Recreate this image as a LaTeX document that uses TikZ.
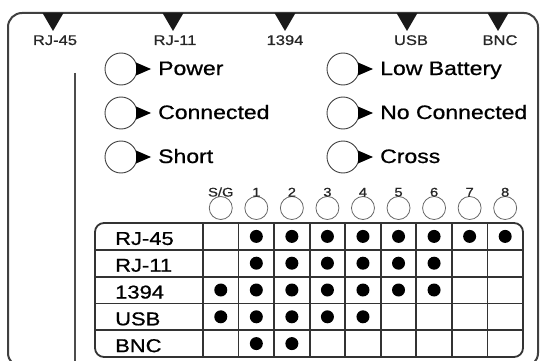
\documentclass[tikz,border=0pt]{standalone}
\usepackage{fontspec}
\usepackage{graphicx}
\setmainfont{Liberation Sans}[FakeBold=0.7]
\newcommand{\hstr}[1]{\scalebox{1.18}[1]{#1}}
\tikzset{
 frameline/.style={line width=2pt, draw=black!75},
 port/.style={fill=black!90},
 portlabel/.style={font=\fontsize{14}{16}\selectfont, anchor=base, inner sep=0pt, text=black!85},
 led/.style={circle, draw=black!75, line width=0.9pt, minimum size=32pt, inner sep=0pt},
 ledtip/.style={fill=black},
 ledlabel/.style={font=\fontsize{19.5}{22}\selectfont, anchor=base west, inner sep=0pt},
 pin/.style={circle, draw=black!60, line width=0.8pt, minimum size=23pt, inner sep=0pt},
 pinlabel/.style={font=\fontsize{12.5}{14}\selectfont, anchor=base, inner sep=0pt, text=black!85},
 gridline/.style={line width=1.8pt, draw=black!80},
 dot/.style={circle, fill=black, minimum size=13pt, inner sep=0pt},
 rowlabel/.style={font=\fontsize{18.6}{21}\selectfont, anchor=base west, inner sep=0pt},
}
\begin{document}
\begin{tikzpicture}[x=1pt,y=-1pt]
\useasboundingbox (0,0) rectangle (541,361);
\begin{scope}
\clip (0,0) rectangle (541,361);
% outer frame
\draw[frameline, rounded corners=14pt] (8,367) -- (8,13) -- (538,13) -- (538,367) -- cycle;
% vertical line
\draw[line width=2pt, draw=black!70] (75,73) coordinate (vtop) -- (75,362) coordinate (vbot);
% ports
\foreach \x/\lx/\t/\n in {53/55/RJ-45/p1, 173/175/RJ-11/p2, 285/285/1394/p3, 407/411/USB/p4, 498/500/BNC/p5} {
  \fill[port] (\x-10.5,13) -- (\x+10.5,13) -- (\x,31) -- cycle;
  \node[portlabel] (\n) at (\lx,45) {\hstr{\t}};
}
% LEDs
\foreach \x/\y/\t/\n in {121/69/Power/l1, 121/113/Connected/l2, 121/157/Short/l3, 343/69/Low Battery/l4, 343/113/No Connected/l5, 343/157/Cross/l6} {
  \node[led] (\n) at (\x,\y) {};
  \fill[ledtip] (\x+15,\y-6.5) -- (\x+30,\y) -- (\x+15,\y+6.5) -- cycle;
  \node[ledlabel] (\n t) at (\x+37,\y+6) {\hstr{\t}};
}
% pins
\foreach \t [count=\i from 0] in {S/G,1,2,3,4,5,6,7,8} {
  \pgfmathsetmacro{\xc}{203+35.55*(\i+0.5)}
  \node[pin] (pin\i) at (\xc,208) {};
  \node[pinlabel] (pinl\i) at (\xc,196.5) {\hstr{\t}};
}
% table
\draw[gridline, rounded corners=9pt] (95,223) rectangle (523,357);
\foreach \j in {1,2,3,4} {
  \draw[gridline] (95,223+26.8*\j) -- (523,223+26.8*\j);
}
\foreach \i in {0,...,8} {
  \draw[gridline] (203+35.55*\i,223) -- (203+35.55*\i,357);
}
\foreach \t [count=\j from 0] in {RJ-45,RJ-11,1394,USB,BNC} {
  \node[rowlabel] (r\j) at (115,223+26.8*\j+13.4+8.5) {\hstr{\t}};
}
\foreach \j/\cols in {0/{1,2,3,4,5,6,7,8}, 1/{1,2,3,4,5,6}, 2/{0,1,2,3,4,5,6}, 3/{0,1,2,3,4}, 4/{1,2}} {
  \foreach \i in \cols {
    \node[dot] (d\j\i) at (203+35.55*\i+17.775, 223+26.8*\j+13.4) {};
  }
}
\end{scope}
\end{tikzpicture}
\end{document}
